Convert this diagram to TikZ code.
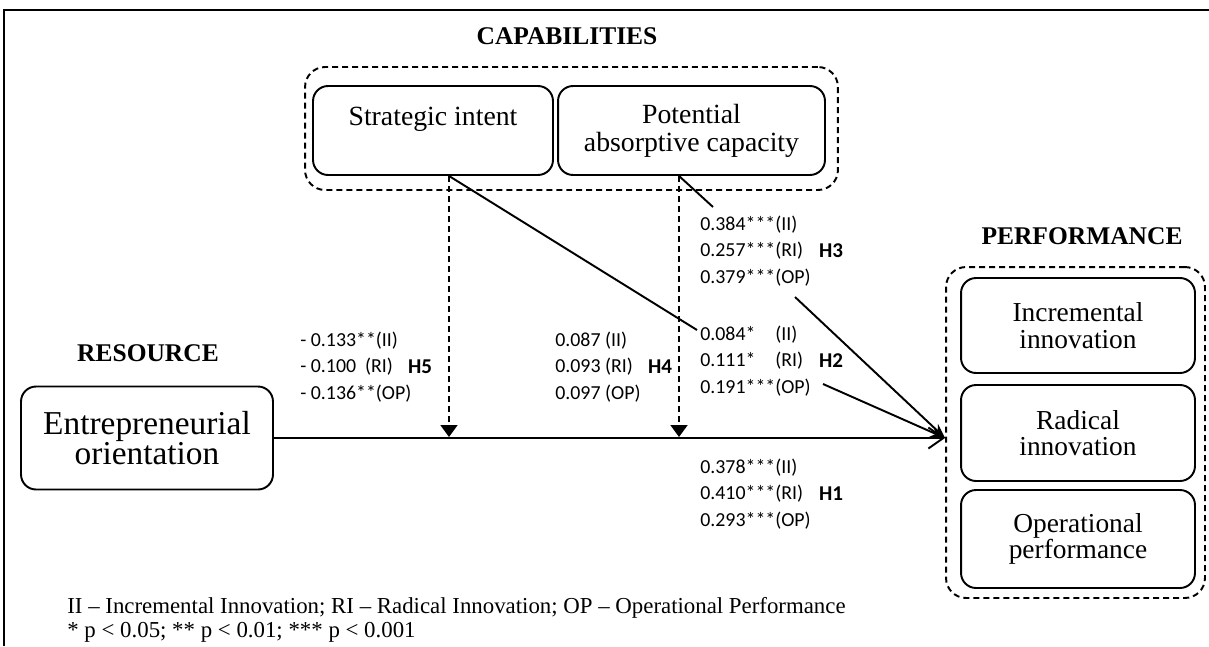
\documentclass[tikz,border=0pt]{standalone}
\usepackage{fontspec}
\setmainfont{Liberation Serif}
\newfontfamily\coeffont{Carlito}
\usetikzlibrary{arrows.meta}

\tikzset{
	box/.style={draw, line width=1.1pt, rounded corners=0.3cm, align=center, inner sep=0pt, font=\fontsize{15.8}{16}\selectfont},
	group/.style={draw, line width=1.1pt, dash pattern=on 0.12cm off 0.08cm, rounded corners=0.4cm, inner sep=0pt},
	head/.style={inner sep=0pt, font=\fontsize{14.5}{16}\selectfont\bfseries},
	coef/.style={anchor=west, align=left, inner sep=0pt, font=\fontsize{11.3}{15.3}\selectfont\coeffont},
	hyp/.style={inner sep=0pt, font=\fontsize{12}{14}\selectfont\coeffont\bfseries},
	note/.style={anchor=west, inner sep=0pt, font=\fontsize{13}{14}\selectfont},
	link/.style={line width=1.1pt, -{Stealth[length=0.3cm, width=0.22cm]}},
	mainlink/.style={line width=1.1pt, -{Straight Barb[length=0.3cm, width=0.42cm]}},
	modlink/.style={line width=1.1pt, dash pattern=on 0.12cm off 0.08cm, -{Triangle[length=0.24cm, width=0.34cm]}},
}

\begin{document}
\begin{tikzpicture}
	\pgfsetxvec{\pgfpoint{0.02cm}{0.0cm}}
	\pgfsetyvec{\pgfpoint{0.0cm}{-0.02cm}}
	\useasboundingbox (0,0) rectangle (1209,646);
	\draw[line width=1.6pt] (4,646) -- (4,10) -- (1209,10);

	\node[head] at (567,36) (captitle) {CAPABILITIES};
	\node[group, minimum width=10.66cm, minimum height=2.46cm] at (571.5,128.5) (cap) {};
	\node[box, minimum width=4.8cm, minimum height=1.78cm] at (433,130.5) (si) {Strategic intent\\ \mbox{}};
	\node[box, minimum width=5.34cm, minimum height=1.78cm] at (691.5,130.5) (pac) {Potential\\absorptive capacity};

	\node[head] at (148,353) (restitle) {RESOURCE};
	\node[box, minimum width=5.04cm, minimum height=2.06cm, font=\fontsize{19}{17.5}\selectfont] at (147,438) (eo) {Entrepreneurial\\orientation};

	\node[head] at (1082,236) (perftitle) {PERFORMANCE};
	\node[group, minimum width=5.18cm, minimum height=6.62cm] at (1075.5,432.5) (perf) {};
	\node[box, minimum width=4.68cm, minimum height=1.9cm, font=\fontsize{15.6}{15}\selectfont] at (1078,325.5) (ii) {Incremental\\innovation};
	\node[box, minimum width=4.68cm, minimum height=1.92cm, font=\fontsize{15.6}{15}\selectfont] at (1078,433) (ri) {Radical\\innovation};
	\node[box, minimum width=4.68cm, minimum height=1.96cm, font=\fontsize{15.6}{15}\selectfont] at (1078,539) (op) {Operational\\performance};

	\coordinate (tip) at (eo.east -| perf.west);
	\coordinate (m5) at (449,437);
	\coordinate (m4) at (679,437);
	\coordinate (h2a) at (697,330);
	\coordinate (h2b) at (823,384);
	\coordinate (h3a) at (713,207);
	\coordinate (h3b) at (795,297);

	\draw[mainlink] (eo.east) -- (tip);
	\draw[modlink] (si.south -| m5) -- (m5);
	\draw[modlink] (pac.south -| m4) -- (m4);
	\draw[line width=1.1pt] (si.south -| m5) -- (h2a);
	\draw[link] (h2b) -- (tip);
	\draw[line width=1.1pt] (pac.south -| m4) -- (h3a);
	\draw[link] (h3b) -- (tip);

	\node[coef] at (300,367) (h5lab) {- 0.133**(II)\\- 0.100\ \ (RI)\\- 0.136**(OP)};
	\node[hyp] at (420,367) (h5) {H5};
	\node[coef] at (555,367) (h4lab) {0.087 (II)\\0.093 (RI)\\0.097 (OP)};
	\node[hyp] at (660,367) (h4) {H4};
	\node[coef] at (700,361) (h2lab) {0.084*\hphantom{**}(II)\\0.111*\hphantom{**}(RI)\\0.191***(OP)};
	\node[hyp] at (831,361) (h2) {H2};
	\node[coef] at (700,251) (h3lab) {0.384***(II)\\0.257***(RI)\\0.379***(OP)};
	\node[hyp] at (831,251) (h3) {H3};
	\node[coef] at (700,494) (h1lab) {0.378***(II)\\0.410***(RI)\\0.293***(OP)};
	\node[hyp] at (831,494) (h1) {H1};

	\node[note] at (67,608) (key) {II -- Incremental Innovation; RI -- Radical Innovation; OP -- Operational Performance};
	\node[note] at (67,632) (sig) {* p < 0.05; ** p < 0.01; *** p < 0.001};
\end{tikzpicture}
\end{document}
